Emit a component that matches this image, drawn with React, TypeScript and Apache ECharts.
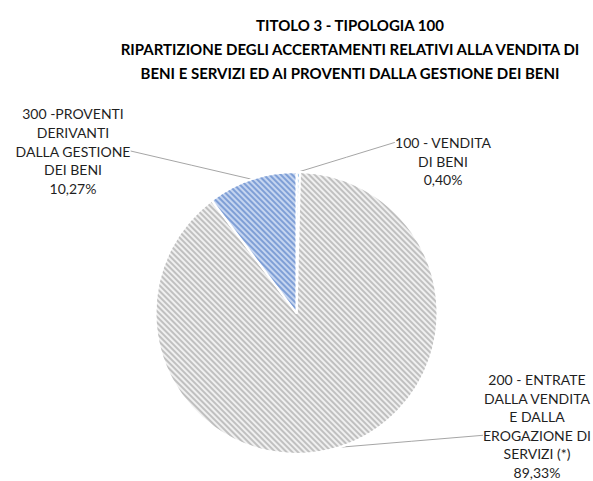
import React, { useEffect, useRef } from "react";
import * as echarts from "echarts";

const titleLines = [
  "TITOLO 3 - TIPOLOGIA 100",
  "RIPARTIZIONE DEGLI ACCERTAMENTI RELATIVI ALLA VENDITA DI",
  "BENI E SERVIZI ED AI PROVENTI DALLA GESTIONE DEI BENI",
];
const categories = [
  "100 - VENDITA\nDI BENI",
  "200 - ENTRATE\nDALLA VENDITA\nE DALLA\nEROGAZIONE DI\nSERVIZI (*)",
  "300 -PROVENTI\nDERIVANTI\nDALLA GESTIONE\nDEI BENI",
];
const values = [0.4, 89.33, 10.27];
const valueLabels = ["0,40%", "89,33%", "10,27%"];

// label placement (layout only)
const labelPos = [
  { x: 443, y: 161, lineIdx: 0, side: "left" },
  { x: 537, y: 426, lineIdx: 3, side: "left" },
  { x: 73, y: 151, lineIdx: 2, side: "right" },
];

export default function App() {
  const ref = useRef<HTMLDivElement>(null);
  useEffect(() => {
    if (!ref.current) return;
    const chart = echarts.init(ref.current, null, { renderer: "svg" });
    const font = "Lato, 'Open Sans', sans-serif";
    const lh = 18.6;
    const stripe = (bg: string, fg: string) => ({
      color: bg,
      decal: {
        symbol: "rect",
        symbolSize: 1,
        color: fg,
        dashArrayX: [1, 0],
        dashArrayY: [2, 2],
        rotation: Math.PI / 4,
      },
    });
    const styles = [
      stripe("#ffffff", "#9dc3e6"),
      stripe("#f0f0f0", "#c0c0c0"),
      stripe("#c5d5f0", "#7f9fd6"),
    ];
    chart.setOption({
      animation: false,
      backgroundColor: "#ffffff",
      title: {
        text: titleLines.join("\n"),
        left: 345,
        top: 8,
        textAlign: "center",
        textStyle: {
          fontFamily: font,
          fontSize: 15,
          fontWeight: "bold",
          color: "#000000",
          lineHeight: 24,
        },
      },
      series: [
        {
          type: "pie",
          center: [296.5, 313],
          radius: [0, 141],
          startAngle: 90,
          clockwise: true,
          data: categories.map((c, i) => ({
            name: c,
            value: values[i],
            itemStyle: { ...styles[i], borderColor: "#ffffff", borderWidth: 2 },
          })),
          label: {
            show: true,
            position: "outside",
            formatter: (p: any) => p.name + "\n" + valueLabels[p.dataIndex],
            fontFamily: font,
            fontSize: 14,
            color: "#1f1f1f",
            lineHeight: lh,
            align: "center",
          },
          labelLine: {
            show: true,
            length: 10,
            length2: 10,
            lineStyle: { color: "#a6a6a6", width: 1 },
          },
          labelLayout: (params: any) => {
            const pos = labelPos[params.dataIndex];
            const w = params.labelRect.width;
            const h = params.labelRect.height;
            const top = pos.y - h / 2;
            const ly = top + lh * (pos.lineIdx + 0.5);
            const lx = pos.side === "left" ? pos.x - w / 2 : pos.x + w / 2;
            const p0 = params.labelLinePoints
              ? params.labelLinePoints[0]
              : [lx, ly];
            return {
              x: pos.x,
              y: pos.y,
              align: "center",
              verticalAlign: "middle",
              labelLinePoints: [
                p0,
                [(p0[0] + lx) / 2, (p0[1] + ly) / 2],
                [lx, ly],
              ],
            };
          },
        },
      ],
    });
    return () => chart.dispose();
  }, []);
  return (
    <div
      ref={ref}
      style={{ position: "fixed", left: 0, top: 0, width: 593, height: 481 }}
    />
  );
}
